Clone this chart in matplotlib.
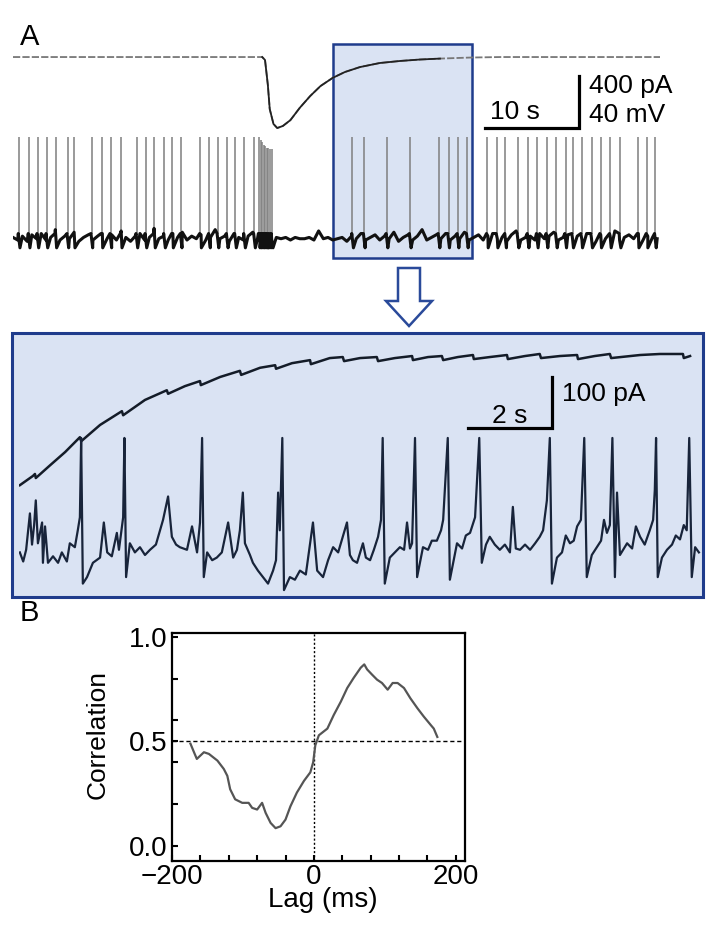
import matplotlib.pyplot as plt
from matplotlib.patches import Rectangle, Polygon
import numpy as np

plt.rcParams['font.family'] = ['Liberation Sans', 'DejaVu Sans']

W, H = 714, 926
BOX_FACE = '#dae3f3'
BOX_EDGE = '#1f3c8c'

# ---- panel A, whole recording (s, pA / mV)
current_t = [0, 26.5, 26.8, 27.1, 27.3, 27.7, 28.1, 28.7, 29.5, 30.5, 31.6, 32.7, 34.0,
             35.3, 36.9, 39.0, 41.2, 43.3, 45.4, 48.6, 51.8, 68.8]
current_pa = [0, 0, -23, -215, -400, -515, -546, -530, -485, -390, -300, -223, -160,
              -115, -77, -46, -30, -19, -12, -4, 0, 0]

spike_t = [0.64, 1.70, 2.63, 3.59, 4.54, 5.82, 6.49, 8.37, 9.44, 10.39, 11.49, 13.16,
           14.12, 15.03, 16.10, 16.95, 17.87, 19.93, 20.88, 21.78, 22.77, 23.65, 24.61,
           25.67, 26.17, 26.33, 26.49, 26.65, 26.81, 26.97, 27.13, 27.34, 27.55,
           36.10, 37.34, 39.76, 42.23, 45.29, 46.31, 47.31, 48.30, 50.43, 51.46, 52.37,
           53.69, 54.76, 55.74, 56.77, 57.77, 58.76, 59.50, 60.46, 61.52, 62.48, 63.51,
           64.54, 66.46, 67.41, 68.30]
spike_peak = [24] * 24 + [24, 22, 20, 18, 17, 16, 16, 15, 15] + [24] * 26

base_mv = [-53, -55, -52, -56, -51, -54, -50, -55, -53, -47, -55, -52, -54, -49, -56, -53, -51, -55, -52, -50,
           -54, -51, -55, -48, -53, -56, -52, -50, -55, -53, -46, -54, -52, -55, -50, -53, -49, -55, -52, -54,
           -51, -55, -53, -47, -54, -52, -56, -50, -53, -55, -52, -49, -54, -53, -55, -54, -53, -54, -53, -55,
           -53, -54, -54, -53, -55, -48, -54, -53, -55, -54, -53, -56, -52, -54, -50, -55, -53, -51, -55, -52,
           -54, -49, -56, -53, -51, -55, -52, -47, -55, -53, -51, -54, -50, -55, -52, -54, -49, -55, -53, -51,
           -55, -52, -50, -54, -53, -56, -51, -48, -55, -53, -52, -55, -50, -54, -52, -49, -55, -53, -51, -54,
           -52, -55, -50, -53, -56, -51, -54, -52, -48, -55, -53, -51, -54, -50, -55, -52, -53, -54]
base_t = np.arange(len(base_mv)) * 0.5

# ---- expanded segment
zoom_current_t = [0.02, 0.33, 0.38, 0.40, 0.74, 1.10, 1.45, 1.48, 1.93, 2.45, 2.48, 3.00, 3.52,
                  3.55, 3.95, 4.31, 4.33, 4.79, 5.26, 5.29, 5.74, 6.10, 6.12, 6.50, 6.93, 6.95,
                  7.40, 7.71, 7.74, 8.12, 8.52, 8.55, 8.95, 9.36, 9.38, 9.74, 10.07, 10.10,
                  10.45, 10.81, 10.83, 11.21, 11.62, 11.64, 12.05, 12.40, 12.43, 12.88, 13.29,
                  13.31, 13.71, 14.07, 14.10, 14.79, 15.26, 15.81, 15.83, 15.98]
zoom_current_pa = [-255, -237, -233, -241, -216, -190, -161, -169, -137, -110, -118, -88, -69,
                   -76, -61, -51, -59, -43, -31, -39, -25, -20, -27, -16, -10, -18,
                   -6, -4, -12, -6, -4, -12, -6, -2, -10, -4, -2, -10,
                   -4, 0, -8, -4, 0, -8, -2, 2, -6, -2, 0,
                   -8, -2, 2, -6, 0, 2, 2, -6, -2]

zoom_spike_t = [1.48, 2.51, 4.36, 6.27, 8.66, 9.43, 10.21, 10.96, 12.64, 13.46, 14.13, 15.17, 15.96]
zoom_spike_mv = 35

zoom_v_t = [0.02, 0.10, 0.17, 0.26, 0.31, 0.36, 0.40, 0.45, 0.55, 0.57, 0.62, 0.69, 0.81, 0.93,
            1.02, 1.14, 1.21, 1.33, 1.40, 1.45, 1.52, 1.62, 1.76, 1.93, 2.02, 2.10, 2.21, 2.33,
            2.38, 2.48, 2.55, 2.64, 2.76, 2.88, 3.00, 3.12, 3.26, 3.43, 3.55, 3.64, 3.74, 3.83,
            4.00, 4.12, 4.24, 4.31, 4.40, 4.48, 4.60, 4.71, 4.83, 4.98, 5.10, 5.19, 5.26, 5.33,
            5.38, 5.50, 5.57, 5.69, 5.81, 5.93, 6.05, 6.12, 6.17, 6.21, 6.31, 6.45, 6.57, 6.69,
            6.83, 7.00, 7.10, 7.24, 7.36, 7.48, 7.60, 7.71, 7.81, 7.88, 7.95, 8.05, 8.19, 8.26,
            8.36, 8.45, 8.55, 8.62, 8.71, 8.83, 8.95, 9.07, 9.17, 9.24, 9.31, 9.36, 9.48, 9.62,
            9.74, 9.83, 9.95, 10.05, 10.10, 10.26, 10.43, 10.55, 10.64, 10.74, 10.86, 11.02,
            11.12, 11.21, 11.33, 11.45, 11.57, 11.69, 11.76, 11.83, 11.93, 12.05, 12.17, 12.29,
            12.40, 12.48, 12.57, 12.69, 12.81, 12.93, 13.02, 13.12, 13.21, 13.29, 13.38, 13.52,
            13.64, 13.76, 13.86, 13.93, 14.00, 14.07, 14.19, 14.24, 14.31, 14.48, 14.60, 14.69,
            14.79, 14.90, 15.02, 15.10, 15.14, 15.21, 15.31, 15.43, 15.55, 15.64, 15.74, 15.83,
            15.90, 16.02, 16.10, 16.19]
zoom_v_mv = [-53, -60, -51, -23, -47, -32, -13, -46, -30, -61, -33, -61, -56, -61,
             -53, -60, -46, -49, -36, -26, -77, -72, -61, -57, -30, -53, -56, -38,
             -51, -26, -72, -46, -53, -49, -55, -51, -47, -28, -10, -41, -47, -49,
             -51, -33, -53, -30, -72, -53, -59, -57, -53, -30, -57, -51, -36, -7,
             -46, -55, -61, -67, -72, -77, -67, -59, -7, -36, -82, -72, -74, -67,
             -70, -30, -67, -72, -59, -49, -53, -41, -30, -55, -59, -61, -46, -57,
             -59, -51, -41, -28, -77, -57, -53, -49, -51, -30, -50, -46, -72, -49,
             -51, -44, -44, -36, -28, -74, -46, -50, -40, -38, -26, -61,
             -47, -41, -47, -51, -47, -53, -18, -50, -51, -47, -51, -46,
             -41, -36, -13, -77, -57, -53, -40, -46, -44, -33, -28, -72,
             -55, -49, -44, -28, -38, -32, -72, -7, -55, -46, -50, -33,
             -41, -47, -36, -28, -5, -72, -57, -51, -47, -40, -43, -32,
             -36, -72, -49, -53]

# ---- panel B
lag_ms = [-174, -169, -165, -155, -148, -136, -127, -122, -118, -111, -101, -92, -87, -80,
          -73, -68, -61, -54, -47, -40, -33, -24, -14, -5, -1, 2, 7, 19, 28, 38, 47, 56,
          66, 71, 75, 82, 89, 96, 104, 111, 118, 127, 136, 146, 155, 165, 169, 174]
corr = [0.489, 0.448, 0.416, 0.448, 0.440, 0.408, 0.368, 0.335, 0.271, 0.223, 0.206, 0.206,
        0.182, 0.174, 0.206, 0.158, 0.110, 0.085, 0.094, 0.126, 0.190, 0.255, 0.311, 0.352,
        0.400, 0.481, 0.529, 0.561, 0.626, 0.690, 0.755, 0.803, 0.852, 0.868, 0.844, 0.819,
        0.795, 0.779, 0.747, 0.779, 0.779, 0.755, 0.706, 0.658, 0.618, 0.577, 0.561, 0.521]


def px_axes(fig, x0, y0, x1, y1, off=True):
    ax = fig.add_axes([x0 / W, 1 - y1 / H, (x1 - x0) / W, (y1 - y0) / H])
    ax.set_facecolor('none')
    if off:
        ax.set_axis_off()
    return ax


def px_rect(x0, y0, x1, y1, **kw):
    return Rectangle((x0 / W, 1 - y1 / H), (x1 - x0) / W, (y1 - y0) / H, **kw)


fig = plt.figure(figsize=(W / 100, H / 100), dpi=100)

# highlight boxes and arrow (layout only)
fig.add_artist(px_rect(333, 44, 472, 258, transform=fig.transFigure, fc=BOX_FACE,
                       ec=BOX_EDGE, lw=1.8, zorder=-1))
fig.add_artist(px_rect(12, 333, 703, 597, transform=fig.transFigure, fc=BOX_FACE,
                       ec=BOX_EDGE, lw=2.2, zorder=-1))
arrow_px = [(398, 268), (420, 268), (420, 301), (432, 301), (409, 326), (386, 301), (398, 301)]
fig.add_artist(Polygon([(x / W, 1 - y / H) for x, y in arrow_px], closed=True,
                       transform=fig.transFigure, fc='white', ec='#2a4a9a', lw=1.8))

fig.text(20 / W, 1 - 45 / H, 'A', fontsize=21)
fig.text(20 / W, 1 - 621 / H, 'B', fontsize=21)

# current, whole recording
ax = px_axes(fig, 13, 40, 660, 140)
ax.set_xlim(0, 68.8)
ax.set_ylim(-638, 131)
ax.plot(current_t, current_pa, color='#777777', lw=1.3, ls=(0, (4, 1.2)))
ct = np.array(current_t)
seg = (ct >= 26.5) & (ct <= 45.5)
ax.plot(ct[seg], np.array(current_pa)[seg], color='#222222', lw=1.3)
# scale bar 10 s / 400 pA
ax.plot([50.2, 60.2, 60.2], [-546, -546, -146], color='k', lw=2.3,
        solid_joinstyle='miter', clip_on=False)
ax.text(53.4, -477, '10 s', ha='center', va='baseline', fontsize=19)
ax.text(61.2, -277, '400 pA', ha='left', va='baseline', fontsize=19)
ax.text(61.2, -500, '40 mV', ha='left', va='baseline', fontsize=19)

# voltage, whole recording
ax = px_axes(fig, 13, 120, 660, 262)
ax.set_xlim(0, 68.8)
ax.set_ylim(-71.9, 37.3)
pts = list(zip(base_t, base_mv))
pts += [(t - 0.08, -50) for t in spike_t] + [(t + 0.1, -61) for t in spike_t]
pts.sort()
vt, vv = zip(*pts)
ax.vlines(spike_t, -50, spike_peak, color='#7f7f7f', lw=1.1)
ax.plot(vt, vv, color='#111111', lw=2.2)

# expanded current
ax = px_axes(fig, 19, 340, 701, 500)
ax.set_xlim(0, 16.24)
ax.set_ylim(-284, 29.4)
ax.plot(zoom_current_t, zoom_current_pa, color='#141c28', lw=1.8)
ax.plot([10.69, 12.69, 12.69], [-143, -143, -43], color='k', lw=2.3,
        solid_joinstyle='miter', clip_on=False)
ax.text(11.69, -133, '2 s', ha='center', va='baseline', fontsize=19)
ax.text(12.93, -91, '100 pA', ha='left', va='baseline', fontsize=19)

# expanded voltage
ax = px_axes(fig, 19, 420, 701, 600)
ax.set_xlim(0, 16.24)
ax.set_ylim(-89.6, 48.8)
pts = list(zip(zoom_v_t, zoom_v_mv)) + [(t, zoom_spike_mv) for t in zoom_spike_t]
pts.sort()
vt, vv = zip(*pts)
ax.plot(vt, vv, color='#18243a', lw=1.6)

# panel B
ax = px_axes(fig, 172, 633, 465, 861, off=False)
ax.set_xlim(-200, 213)
ax.set_ylim(-0.072, 1.018)
ax.axhline(0.5, color='k', lw=1.0, ls=(0, (3, 2)))
ax.axvline(0, color='k', lw=1.0, ls=(0, (1.5, 1.5)))
ax.plot(lag_ms, corr, color='#555555', lw=1.6)
ax.set_xticks([-200, 0, 200])
ax.set_xticks(np.arange(-160, 200, 40), minor=True)
ax.set_yticks([0.0, 0.5, 1.0])
ax.set_yticks([0.2, 0.4, 0.6, 0.8], minor=True)
ax.set_yticklabels(['0.0', '0.5', '1.0'])
ax.set_xticklabels(['\u2212200', '0', '200'])
ax.tick_params(which='both', direction='in', length=4, width=1.5, labelsize=20,
               top=False, right=False)
ax.tick_params(axis='y', pad=3)
ax.tick_params(axis='x', pad=2)
for sp in ax.spines.values():
    sp.set_linewidth(1.6)
ax.set_xlabel('Lag (ms)', fontsize=20)
ax.set_ylabel('Correlation', fontsize=19)
ax.xaxis.set_label_coords(0.515, -0.115)
ax.yaxis.set_label_coords(-0.212, 0.553)

fig.savefig('out.png', dpi=100, facecolor='white')
